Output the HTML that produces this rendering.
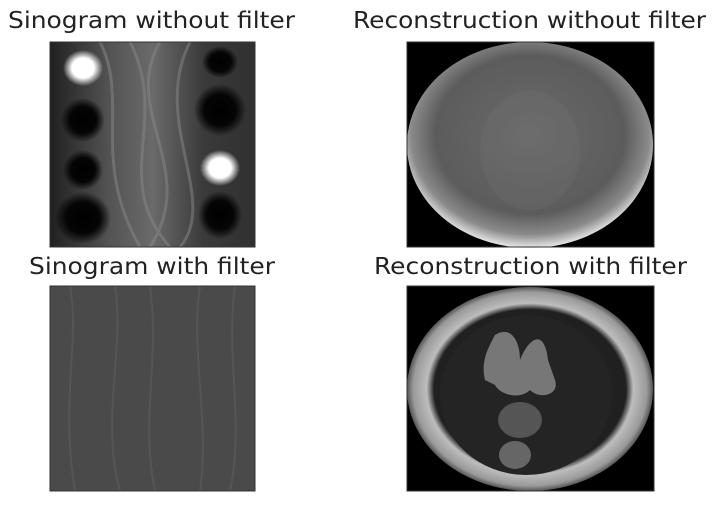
<!DOCTYPE html>
<html><head><meta charset="utf-8"><style>
body{margin:0;background:#fff;width:715px;height:506px;overflow:hidden;font-family:"DejaVu Sans","Liberation Sans",sans-serif}
</style></head><body>
<svg width="715" height="506">
<defs>
<radialGradient id="bright" cx="50%" cy="50%" r="50%"><stop offset="0" stop-color="#fff"/><stop offset="0.55" stop-color="#fff"/><stop offset="1" stop-color="#fff" stop-opacity="0"/></radialGradient>
<radialGradient id="dark" cx="50%" cy="50%" r="50%"><stop offset="0" stop-color="#000"/><stop offset="0.6" stop-color="#050505"/><stop offset="1" stop-color="#000" stop-opacity="0"/></radialGradient>
<radialGradient id="rec1" cx="50%" cy="45%" r="55%"><stop offset="0" stop-color="#6a6a6a"/><stop offset="0.7" stop-color="#5c5c5c"/><stop offset="0.88" stop-color="#8a8a8a"/><stop offset="1" stop-color="#e8e8e8"/></radialGradient>
<radialGradient id="rec2" cx="50%" cy="50%" r="50%"><stop offset="0" stop-color="#262626"/><stop offset="0.78" stop-color="#202020"/><stop offset="0.84" stop-color="#bdbdbd"/><stop offset="0.95" stop-color="#9a9a9a"/><stop offset="1" stop-color="#555"/></radialGradient>
<linearGradient id="sino1" x1="0" x2="1"><stop offset="0" stop-color="#202020"/><stop offset="0.3" stop-color="#555"/><stop offset="0.5" stop-color="#6a6a6a"/><stop offset="0.75" stop-color="#3a3a3a"/><stop offset="1" stop-color="#303030"/></linearGradient>
</defs>

<text x="8" y="28" font-size="23" textLength="287" lengthAdjust="spacingAndGlyphs" fill="#222">Sinogram without filter</text>
<text x="353" y="28" font-size="23" textLength="353" lengthAdjust="spacingAndGlyphs" fill="#222">Reconstruction without filter</text>
<text x="29" y="274" font-size="23" textLength="246" lengthAdjust="spacingAndGlyphs" fill="#222">Sinogram with filter</text>
<text x="374" y="274" font-size="23" textLength="313" lengthAdjust="spacingAndGlyphs" fill="#222">Reconstruction with filter</text>

<g>
<rect x="50" y="42" width="205" height="205" fill="url(#sino1)"/>
<path d="M100 42 C130 100 90 160 140 247 M130 42 C170 120 110 180 170 247 M160 42 C120 110 200 170 150 247 M190 42 C150 120 220 200 180 247" stroke="#888" stroke-width="3" fill="none" opacity="0.5"/>
<ellipse cx="83" cy="120" rx="22" ry="22" fill="url(#dark)"/>
<ellipse cx="83" cy="170" rx="20" ry="20" fill="url(#dark)"/>
<ellipse cx="83" cy="218" rx="28" ry="26" fill="url(#dark)"/>
<ellipse cx="220" cy="110" rx="26" ry="26" fill="url(#dark)"/>
<ellipse cx="220" cy="62" rx="18" ry="16" fill="url(#dark)"/>
<ellipse cx="220" cy="215" rx="22" ry="24" fill="url(#dark)"/>
<ellipse cx="83" cy="68" rx="20" ry="18" fill="url(#bright)"/>
<ellipse cx="220" cy="168" rx="20" ry="18" fill="url(#bright)"/>
<rect x="50" y="42" width="205" height="205" fill="none" stroke="#333" stroke-width="1"/>
</g>

<g>
<rect x="407" y="42" width="247" height="205" fill="#000"/>
<ellipse cx="530" cy="145" rx="123" ry="103" fill="url(#rec1)"/>
<ellipse cx="530" cy="150" rx="50" ry="60" fill="#777" opacity="0.2"/>
<rect x="407" y="42" width="247" height="205" fill="none" stroke="#333" stroke-width="1"/>
</g>

<g>
<rect x="50" y="286" width="205" height="205" fill="#4a4a4a"/>
<path d="M70 286 C80 340 60 400 75 491 M115 286 C125 350 100 420 120 491 M150 286 C160 360 140 420 155 491 M200 286 C190 350 210 420 200 491 M235 286 C225 360 245 420 230 491" stroke="#555" stroke-width="2" fill="none"/>
<rect x="50" y="286" width="205" height="205" fill="none" stroke="#333" stroke-width="1"/>
</g>

<g>
<rect x="407" y="286" width="247" height="205" fill="#000"/>
<ellipse cx="530" cy="389" rx="123" ry="102" fill="url(#rec2)"/>
<ellipse cx="526" cy="395" rx="86" ry="80" fill="#242424"/>
<path d="M495 335 C510 325 520 340 520 360 C530 335 545 330 548 360 L555 380 C560 395 540 400 530 390 C520 400 500 395 495 385 L485 380 C480 360 490 345 495 335 Z" fill="#777"/>
<ellipse cx="520" cy="420" rx="22" ry="18" fill="#555"/>
<ellipse cx="515" cy="455" rx="16" ry="14" fill="#666"/>
<rect x="407" y="286" width="247" height="205" fill="none" stroke="#333" stroke-width="1"/>
</g>
</svg>
</body></html>
